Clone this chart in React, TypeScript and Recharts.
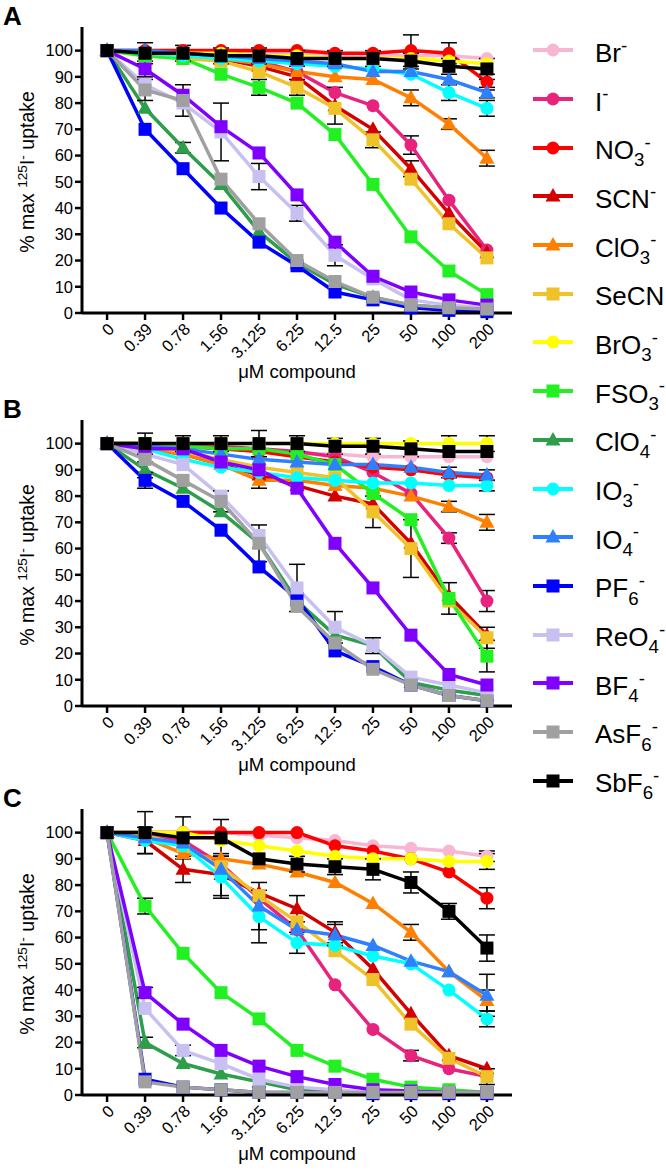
import React from 'react';
import { LineChart, Line, XAxis, YAxis, ErrorBar } from 'recharts';

const FONT = '"Liberation Sans", Arial, Helvetica, sans-serif';

// concentration categories (µM)
const CONC = ['0', '0.39', '0.78', '1.56', '3.125', '6.25', '12.5', '25', '50', '100', '200'];

// anion series, in legend / draw order
const NAMES = ['Br', 'I', 'NO3', 'SCN', 'ClO3', 'SeCN', 'BrO3', 'FSO3', 'ClO4', 'IO3', 'IO4', 'PF6', 'ReO4', 'BF4', 'AsF6', 'SbF6'];
const COLORS = ['#f8b6d3', '#e8237d', '#ff0000', '#d40000', '#ff8000', '#f0c22a', '#ffff00', '#22f022', '#2e9e4a', '#00ffff', '#2f80ff', '#0000ff', '#c8c0f0', '#7f00ff', '#a0a0a0', '#000000'];
const SHAPES = ['circle', 'circle', 'circle', 'triangle', 'triangle', 'square', 'circle', 'square', 'triangle', 'circle', 'triangle', 'square', 'square', 'square', 'square', 'square'];

// % max 125I- uptake, panel A (rows follow NAMES)
const panelA = [
    [100, 100, 100, 99, 99, 99, 98, 98, 98, 98, 97],
    [100, 99, 99, 98, 96, 92, 84, 79, 64, 43, 24],
    [100, 100, 100, 100, 100, 100, 99, 99, 100, 99, 88],
    [100, 99, 98, 97, 94, 90, 79, 70, 55, 38, 23],
    [100, 99, 98, 97, 95, 92, 90, 89, 82, 72, 59],
    [100, 98, 97, 96, 92, 86, 78, 66, 51, 34, 21],
    [100, 99, 99, 99, 98, 98, 97, 97, 97, 96, 95],
    [100, 98, 97, 91, 86, 80, 68, 49, 29, 16, 7],
    [100, 78, 63, 49, 31, 19, 11, 6, 3, 2, 1],
    [100, 99, 98, 97, 96, 95, 94, 93, 91, 84, 78],
    [100, 100, 99, 98, 97, 96, 95, 92, 92, 89, 84],
    [100, 70, 55, 40, 27, 18, 8, 5, 2, 1, 0.5],
    [100, 87, 80, 69, 52, 38, 22, 13, 5, 3, 2],
    [100, 93, 83, 71, 61, 45, 27, 14, 8, 5, 3],
    [100, 85, 81, 51, 34, 20, 12, 6, 3, 2, 1.5],
    [100, 99, 99, 98, 98, 97, 97, 97, 96, 94, 93],
];

const panelB = [
    [100, 99, 99, 98, 97, 96, 96, 95, 95, 95, 95],
    [100, 100, 99, 99, 98, 97, 95, 89, 81, 64, 40],
    [100, 100, 99, 98, 97, 95, 93, 91, 90, 88, 87],
    [100, 98, 96, 92, 88, 84, 80, 77, 62, 42, 27],
    [100, 98, 96, 92, 86, 86, 84, 83, 80, 76, 70],
    [100, 99, 97, 94, 91, 89, 87, 74, 60, 40, 26],
    [100, 100, 100, 100, 100, 100, 100, 100, 100, 100, 100],
    [100, 100, 99, 98, 98, 96, 92, 81, 71, 41, 19],
    [100, 90, 83, 74, 62, 40, 27, 23, 9, 6, 4],
    [100, 98, 94, 91, 89, 87, 86, 85, 85, 84, 84],
    [100, 99, 98, 96, 94, 93, 92, 92, 91, 89, 88],
    [100, 86, 78, 67, 53, 41, 21, 15, 8, 4, 2],
    [100, 96, 92, 80, 65, 45, 30, 23, 11, 8, 5],
    [100, 98, 98, 93, 90, 83, 62, 45, 27, 12, 8],
    [100, 94, 86, 78, 62, 38, 24, 14, 8, 4, 2],
    [100, 100, 100, 100, 100, 100, 99, 99, 98, 97, 97],
];

const panelC = [
    [100, 100, 100, 100, 99, 98, 97, 95, 94, 93, 91],
    [100, 99, 97, 88, 75, 63, 42, 25, 15, 10, 7],
    [100, 100, 100, 100, 100, 100, 95, 93, 90, 85, 75],
    [100, 97, 86, 84, 77, 71, 62, 48, 31, 15, 10],
    [100, 98, 92, 90, 88, 85, 81, 73, 62, 47, 36],
    [100, 99, 95, 87, 76, 66, 55, 44, 27, 14, 7],
    [100, 100, 100, 97, 95, 93, 91, 90, 90, 89, 89],
    [100, 72, 54, 39, 29, 17, 11, 6, 3, 2, 1],
    [100, 20, 12, 8, 5, 2, 1, 1, 1, 1, 1],
    [100, 97, 95, 83, 68, 58, 57, 53, 50, 40, 29],
    [100, 98, 96, 86, 72, 63, 61, 57, 51, 47, 38],
    [100, 6, 3, 2, 1, 1, 1, 0.5, 0.5, 0.5, 0.5],
    [100, 33, 17, 12, 6, 3, 2, 1, 1, 1, 1],
    [100, 39, 27, 17, 11, 7, 4, 2, 1.5, 1, 1],
    [100, 5, 3, 2, 1, 1, 1, 1, 1, 1, 1],
    [100, 100, 98, 98, 90, 88, 87, 86, 81, 70, 56],
];

// visible error bars (SEM): [series index, concentration index, ± value]
const errA = [
    [15, 1, 4], [15, 2, 3], [15, 3, 3], [15, 4, 3], [15, 5, 3], [15, 6, 3], [15, 7, 3], [15, 8, 3], [15, 9, 3], [15, 10, 4],
    [14, 1, 4], [14, 2, 6], [12, 3, 11], [12, 4, 5], [12, 5, 3], [12, 6, 4], [13, 1, 3],
    [2, 8, 6], [2, 9, 4], [2, 10, 3], [3, 6, 7], [3, 8, 3], [1, 8, 3.5], [5, 7, 3], [5, 5, 3],
    [4, 8, 3], [4, 9, 2], [4, 10, 3], [9, 9, 3], [9, 10, 3], [10, 10, 2], [7, 4, 3], [8, 2, 2],
];
const errB = [
    [15, 1, 4], [15, 2, 3], [15, 3, 3], [15, 4, 5], [15, 5, 3], [15, 6, 3], [15, 7, 3], [15, 8, 3], [6, 9, 3], [6, 10, 3],
    [14, 3, 4], [14, 4, 7], [12, 5, 9], [12, 6, 6], [12, 7, 3], [11, 1, 3], [8, 1, 3],
    [5, 7, 6], [5, 8, 11], [5, 10, 4], [7, 9, 6], [7, 10, 6], [1, 10, 4], [1, 9, 2],
    [4, 4, 3], [4, 9, 2], [4, 10, 3], [9, 10, 2], [10, 9, 2], [10, 10, 2],
];
const errC = [
    [15, 1, 8], [15, 2, 8], [15, 3, 7], [3, 1, 5], [3, 2, 5], [3, 3, 8], [9, 3, 8], [9, 4, 10], [10, 4, 9],
    [3, 5, 5], [9, 5, 4], [10, 6, 4], [3, 6, 4], [7, 1, 3], [8, 1, 2], [12, 2, 2], [13, 1, 2],
    [15, 9, 3], [15, 10, 5], [10, 10, 8], [9, 10, 3], [2, 10, 4], [5, 10, 3], [4, 10, 4], [6, 10, 3], [0, 10, 2],
    [15, 5, 3], [15, 6, 3], [15, 7, 4], [15, 8, 4], [4, 8, 3], [1, 8, 2],
];

const Y_TICKS = [0, 10, 20, 30, 40, 50, 60, 70, 80, 90, 100];

const Marker = ({ cx, cy, shape, color }: any) => {
    if (cx == null || cy == null) return null;
    if (shape === 'circle') return <circle cx={cx} cy={cy} r={6.5} fill={color} />;
    if (shape === 'triangle')
        return <polygon points={`${cx},${cy - 8} ${cx + 7.5},${cy + 5.5} ${cx - 7.5},${cy + 5.5}`} fill={color} />;
    return <rect x={cx - 6.5} y={cy - 6.5} width={13} height={13} fill={color} />;
};

const Label = ({ i }: { i: number }) => {
    const n = NAMES[i];
    const m = n.match(/^(.*?)(\d)$/);
    const base = m ? m[1] : n;
    const sub = m ? m[2] : '';
    return (
        <span>
            {base}
            {sub && <span style={{ fontSize: '0.72em', position: 'relative', top: '0.38em' }}>{sub}</span>}
            {n !== 'SeCN' && <span style={{ fontSize: '0.72em', position: 'relative', top: '-0.55em' }}>-</span>}
        </span>
    );
};

function Panel({ rows, errs, top, letter }: { rows: number[][]; errs: number[][]; top: number; letter: string }) {
    const data = CONC.map((_, j) => {
        const d: any = { x: j };
        rows.forEach((r, i) => { d['s' + i] = r[j]; });
        return d;
    });
    errs.forEach(([i, j, e]) => { data[j]['e' + i] = e; });
    const hasErr = (i: number) => errs.some(e => e[0] === i);
    const tick = { fontSize: 16.5, fill: '#000', fontFamily: FONT };
    return (
        <div style={{ position: 'absolute', left: 0, top, width: 530, height: 390 }}>
            <div style={{ position: 'absolute', left: 3, top: 3, fontSize: 26, fontWeight: 'bold', fontFamily: FONT, lineHeight: 1 }}>{letter}</div>
            <LineChart width={530} height={390} data={data} margin={{ top: 27, right: 18, bottom: 0, left: 0 }}>
                <XAxis dataKey="x" type="number" domain={[-0.66, 10.66]} ticks={CONC.map((_, j) => j)}
                    tickFormatter={(v: number) => CONC[v]} interval={0} angle={-45} textAnchor="end"
                    tick={tick} height={77} tickSize={7} stroke="#000" strokeWidth={3}
                    tickLine={{ stroke: '#000', strokeWidth: 2.5 }} />
                <YAxis type="number" domain={[0, 109]} ticks={Y_TICKS} interval={0} width={82}
                    tick={tick} tickSize={7} stroke="#000" strokeWidth={3}
                    tickLine={{ stroke: '#000', strokeWidth: 2.5 }} />
                {rows.map((_, i) => (
                    <Line key={i} dataKey={'s' + i} type="linear" stroke={COLORS[i]} strokeWidth={3.5}
                        isAnimationActive={false}
                        dot={(p: any) => <Marker key={p.index} cx={p.cx} cy={p.cy} shape={SHAPES[i]} color={COLORS[i]} />}>
                        {hasErr(i) && <ErrorBar dataKey={'e' + i} direction="y" width={8} stroke="#000" strokeWidth={1.5} />}
                    </Line>
                ))}
            </LineChart>
            <div style={{ position: 'absolute', left: 27, top: 172, width: 0, height: 0 }}>
                <div style={{ position: 'absolute', transform: 'translate(-50%, -50%) rotate(-90deg)', whiteSpace: 'nowrap', fontSize: 19.5, fontFamily: FONT }}>
                    % max <span style={{ fontSize: '0.7em', position: 'relative', top: '-0.5em' }}>125</span>I<span style={{ fontSize: '0.7em', position: 'relative', top: '-0.5em' }}>-</span> uptake
                </div>
            </div>
            <div style={{ position: 'absolute', left: 297, top: 372, transform: 'translate(-50%, -50%)', whiteSpace: 'nowrap', fontSize: 18.5, fontFamily: FONT }}>
                μM compound
            </div>
        </div>
    );
}

export default function App() {
    return (
        <div style={{ position: 'absolute', left: 0, top: 0, width: 666, height: 1172, background: '#fff', fontFamily: FONT }}>
            <Panel rows={panelA} errs={errA} top={0} letter="A" />
            <Panel rows={panelB} errs={errB} top={393} letter="B" />
            <Panel rows={panelC} errs={errC} top={782} letter="C" />
            <div style={{ position: 'absolute', left: 533, top: 26, width: 133 }}>
                {NAMES.map((_, i) => (
                    <div key={i} style={{ height: 48.7, display: 'flex', alignItems: 'center' }}>
                        <svg width={42} height={24} style={{ flex: 'none' }}>
                            <line x1={0} y1={12} x2={40} y2={12} stroke={COLORS[i]} strokeWidth={4} />
                            <Marker cx={20} cy={12} shape={SHAPES[i]} color={COLORS[i]} />
                        </svg>
                        <div style={{ marginLeft: 20, fontSize: 26, whiteSpace: 'nowrap', position: 'relative', top: 3 }}>
                            <Label i={i} />
                        </div>
                    </div>
                ))}
            </div>
        </div>
    );
}
